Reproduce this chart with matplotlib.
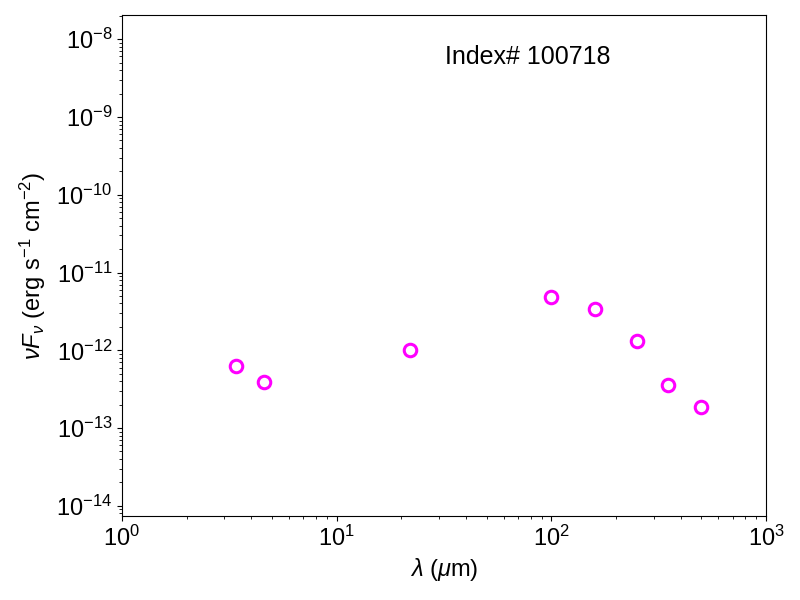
import numpy as np
from matplotlib import pyplot as plt

plt.rcParams['font.family'] = ['Liberation Sans', 'DejaVu Sans']
plt.rcParams['mathtext.fontset'] = 'custom'
plt.rcParams['mathtext.rm'] = 'Liberation Sans'
plt.rcParams['mathtext.it'] = 'Liberation Sans:italic'
plt.rcParams['mathtext.bf'] = 'Liberation Sans:bold'

wavelength = [3.4, 4.6, 22.0, 100.0, 160.0, 250.0, 350.0, 500.0]
nufnu = [6.2e-13, 3.9e-13, 1.0e-12, 4.8e-12, 3.4e-12, 1.3e-12, 3.55e-13, 1.85e-13]
source_id = 100718

fig = plt.figure(figsize=(8, 6), dpi=100)
ax = fig.add_axes([0.1525, 0.14, 0.805, 0.835])

ax.plot(wavelength, nufnu, 'o', mfc='none', mec='magenta', ms=9, mew=2.2)
ax.set_xscale('log')
ax.set_yscale('log')
ax.set_xlim(1, 1000)
ax.set_ylim(7.4e-15, 2.05e-8)

ax.set_xlabel(r'$\lambda$ ($\mu$m)', fontsize=17)
ax.set_ylabel(r'$\nu F_\nu$ (erg s$^{-1}$ cm$^{-2}$)', fontsize=17, labelpad=6)
ax.tick_params(axis='both', which='major', labelsize=17)

ax.text(0.63, 0.916, f'Index# {source_id}', transform=ax.transAxes,
        ha='center', va='center', fontsize=18)

fig.savefig('out.png', dpi=100)
